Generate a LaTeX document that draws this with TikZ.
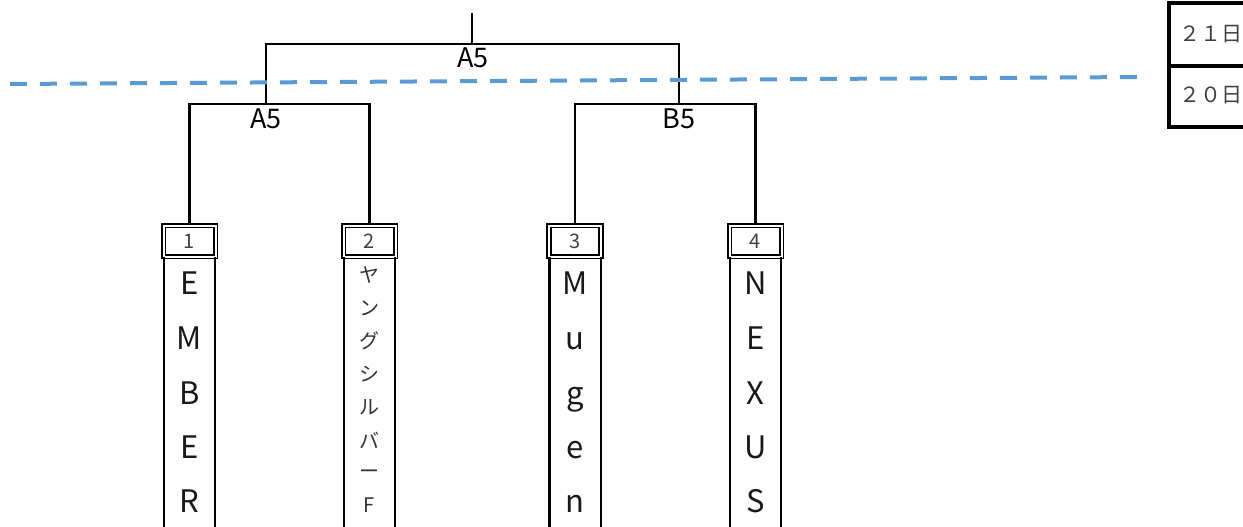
\documentclass[tikz,border=0pt]{standalone}
\usepackage{fontspec}
\setmainfont{Noto Sans CJK JP}
\begin{document}
\begin{tikzpicture}[x=1pt,y=-1pt,
  br/.style={line width=2.6pt},
  lbl/.style={font=\fontsize{27}{27}\selectfont, inner sep=0pt},
  numbox/.style={draw, double, double distance=2pt, line width=1.8pt, minimum width=52pt, minimum height=31pt, inner sep=0pt, font=\fontsize{20}{20}\selectfont, text=black!75},
  col/.style={draw=none, minimum width=51pt, minimum height=290pt, inner sep=0pt, anchor=north},
  big/.style={font=\fontsize{31}{31}\selectfont, inner sep=0pt, anchor=base, text=black!90},
  kana/.style={font=\fontsize{20}{20}\selectfont, inner sep=0pt, text=black!80},
  datecell/.style={font=\fontsize{21}{21}\selectfont, inner sep=0pt, anchor=west, text=black!75},
  dayline/.style={line width=4pt, line cap=butt, color={rgb,255:red,91;green,155;blue,213}, dash pattern=on 17pt off 13pt}]
\useasboundingbox (0,0) rectangle (1243,527);
% number boxes
\node[numbox] (n1) at (189.5,241) {1};
\node[numbox] (n2) at (369.5,241) {2};
\node[numbox] (n3) at (575,241) {3};
\node[numbox] (n4) at (755.5,241) {4};
% name columns
\foreach \i in {1,2,3,4}{
  \node[col] (c\i) at (n\i.south) {};
  \draw[line width=2.6pt] (c\i.north west) -- (c\i.south west);
  \draw[line width=1.6pt] (c\i.north east) -- (c\i.south east);
}
% column 1: EMBER
\foreach \t/\y in {E/294, M/349, B/404, E/458, R/512}{ \node[big] at (189.5,\y) {\t}; }
% column 2: katakana
\foreach \t/\y in {ヤ/275, ン/308, グ/341, シ/374, ル/407, バ/440, ー/474, F/505}{ \node[kana] at (369.5,\y) {\t}; }
% column 3: Mugen
\foreach \t/\y in {M/294, u/349, g/404, e/458, n/512}{ \node[big] at (575,\y) {\t}; }
% column 4: NEXUS
\foreach \t/\y in {N/294, E/349, X/404, U/458, S/512}{ \node[big] at (755.5,\y) {\t}; }
% bracket coordinates
\coordinate (top) at (472,13);
\coordinate (tm) at (472,44);
\coordinate (tl) at (266,44);
\coordinate (tr) at (679,44);
\coordinate (ml) at (266,104);
\coordinate (mr) at (679,104);
\coordinate (l1) at (189.5,104);
\coordinate (l2) at (369.5,104);
\coordinate (r1) at (575,104);
\coordinate (r2) at (755.5,104);
\draw[br] (top) -- (tm);
\draw[br] (ml) -- (tl) -- (tr) -- (mr);
\draw[br] (n1.north) -- (l1) -- (l2) -- (n2.north);
\draw[br] (n3.north) -- (r1) -- (r2) -- (n4.north);
\node[lbl] (lf) at (473,58) {A5};
\node[lbl] (la) at (266,119) {A5};
\node[lbl] (lb) at (679,119) {B5};
% dashed day separator
\coordinate (d1) at (10,84);
\coordinate (d2) at (1141,77);
\draw[dayline] (d1) -- (d2);
% date table
\coordinate (t0) at (1169,3);
\coordinate (t1) at (1169,66);
\coordinate (t2) at (1169,127);
\draw[line width=3.5pt] (1243,3) -- (t0) -- (t2) -- (1243,127);
\draw[line width=3.5pt] (t1) -- (1243,66);
\node[datecell] (d21) at (1179,34) {２１日};
\node[datecell] (d20) at (1179,95) {２０日};
\end{tikzpicture}
\end{document}
